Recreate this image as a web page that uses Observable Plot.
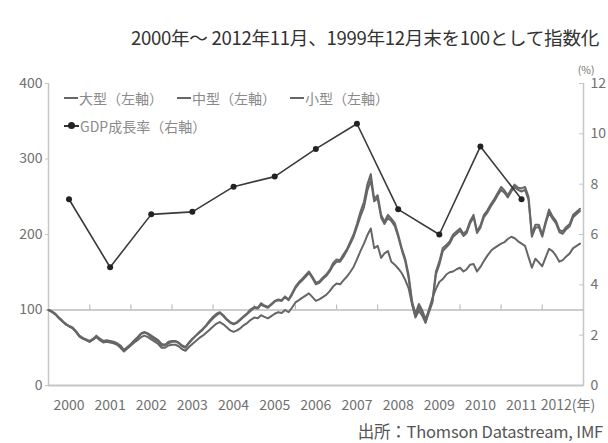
<!DOCTYPE html>
<html><head><meta charset="utf-8">
<script src="https://cdn.jsdelivr.net/npm/d3@7"></script>
<script src="https://cdn.jsdelivr.net/npm/@observablehq/plot@0.6"></script>
<style>
body{margin:0;background:#fff;font-family:"Noto Sans CJK JP","Noto Sans",sans-serif;}
#wrap{position:relative;width:608px;height:443px;overflow:hidden;background:#fff}
#title{height:62px;box-sizing:border-box;padding-top:26px;padding-right:9px;text-align:right;font-size:18.6px;line-height:22px;color:#333;white-space:nowrap;letter-spacing:-0.3px}
#chart{height:360px}
#caption{height:21px;text-align:right;padding-right:5px;font-size:16.5px;line-height:19px;color:#555;white-space:nowrap;letter-spacing:-0.2px}
#legend{position:absolute;left:64px;top:84px;font-size:14px;color:#8a8a8a;line-height:22px}
.row{display:flex;align-items:center;height:28px;white-space:nowrap}
.item{display:flex;align-items:center;margin-right:14px}
.sw{display:inline-block;width:14px;height:2.5px;background:#666;margin-right:1px}
.gsw{position:relative;display:inline-block;width:15px;height:2px;background:#333;margin-right:1px}
.gsw:after{content:"";position:absolute;left:4px;top:-3px;width:7px;height:7px;border-radius:50%;background:#222}
</style></head>
<body><div id="wrap">
<div id="title">2000年～ 2012年11月、1999年12月末を100として指数化</div>
<div id="chart"></div>
<div id="caption">出所：Thomson Datastream, IMF</div>
<div id="legend"></div>
</div>
<script>
// ---- data ----
const seriesNames = ["大型（左軸）", "中型（左軸）", "小型（左軸）"];
const gdpName = "GDP成長率（右軸）";
const leftTicks = [0, 100, 200, 300, 400];
const rightTicks = [0, 2, 4, 6, 8, 10, 12];
const yearLabels = [2000, 2001, 2002, 2003, 2004, 2005, 2006, 2007, 2008, 2009, 2010, 2011];
const lastYearLabel = "2012(年)";
const gdpYears = [2000, 2001, 2002, 2003, 2004, 2005, 2006, 2007, 2008, 2009, 2010, 2011];
const gdpValues = [7.4, 4.7, 6.8, 6.9, 7.9, 8.3, 9.4, 10.4, 7.0, 6.0, 9.5, 7.4];

// monthly, 1999-12 .. 2012-11
const startMonth = "1999-12";
const largeCap = [100,
 98, 95, 90, 86, 81, 79, 76, 71, 65, 62, 60, 58,
 61, 64, 60, 57, 58, 57, 56, 54, 50, 45, 49, 53,
 57, 60, 64, 66, 64, 61, 58, 55, 50, 50, 53, 54,
 54, 52, 48, 46, 51, 55, 59, 63, 66, 70, 74, 78,
 82, 84, 81, 77, 73, 71, 73, 76, 80, 83, 87, 90,
 89, 93, 91, 89, 92, 95, 97, 96, 100, 97, 103, 110,
 113, 116, 119, 122, 117, 112, 114, 117, 120, 125, 131, 135,
 134, 139, 144, 150, 157, 167, 178, 188, 199, 208, 182, 185,
 169, 175, 178, 164, 160, 155, 149, 140, 129, 108, 90, 99,
 92, 83, 101, 116, 128, 137, 141, 147, 150, 151, 154, 156,
 151, 154, 160, 161, 151, 157, 165, 172, 178, 182, 185, 188,
 190, 194, 197, 195, 191, 188, 185, 170, 156, 168, 163, 158,
 170, 181, 178, 172, 164, 166, 171, 175, 182, 185, 188];
const midCap = [100,
 97, 94, 90, 86, 81, 79, 77, 72, 66, 63, 61, 59,
 62, 66, 62, 59, 60, 59, 58, 56, 53, 47, 51, 55,
 60, 64, 69, 71, 69, 66, 63, 60, 55, 54, 58, 59,
 59, 57, 53, 51, 57, 62, 66, 71, 75, 80, 86, 91,
 95, 97, 93, 88, 84, 82, 84, 88, 92, 96, 101, 104,
 103, 109, 106, 104, 108, 112, 114, 113, 118, 114, 122, 131,
 137, 141, 146, 151, 144, 136, 138, 143, 147, 153, 162, 167,
 166, 173, 180, 190, 200, 214, 230, 243, 266, 280, 247, 252,
 226, 217, 226, 221, 215, 200, 182, 168, 147, 112, 95, 108,
 99, 88, 100, 112, 151, 164, 182, 186, 191, 200, 204, 208,
 201, 205, 218, 226, 204, 212, 226, 232, 240, 247, 255, 263,
 258, 252, 260, 266, 262, 261, 263, 250, 200, 213, 213, 200,
 218, 233, 224, 218, 206, 204, 210, 214, 226, 230, 234];
const smallCap = [100,
 98, 95, 89, 85, 82, 78, 76, 71, 65, 62, 60, 58,
 61, 65, 61, 58, 59, 58, 57, 55, 51, 46, 50, 54,
 59, 63, 68, 70, 68, 64, 61, 58, 53, 53, 56, 58,
 58, 56, 52, 50, 56, 61, 66, 70, 74, 79, 84, 89,
 93, 96, 92, 87, 83, 81, 83, 87, 91, 95, 99, 103,
 102, 107, 105, 103, 107, 111, 113, 112, 117, 113, 120, 129,
 135, 139, 144, 149, 142, 134, 136, 141, 145, 151, 159, 164,
 164, 170, 178, 187, 197, 210, 224, 236, 258, 272, 244, 248,
 222, 214, 222, 218, 211, 197, 180, 165, 143, 108, 92, 104,
 96, 84, 97, 110, 147, 160, 178, 183, 188, 197, 201, 205,
 198, 202, 215, 223, 202, 209, 223, 229, 237, 244, 252, 259,
 255, 249, 257, 263, 259, 257, 259, 246, 197, 209, 210, 197,
 215, 229, 221, 215, 203, 201, 207, 211, 223, 227, 231];

// ---- build tables ----
const [sy, sm] = startMonth.split("-").map(Number);
const monthEnd = i => new Date(Date.UTC(sy, sm - 1 + i + 1, 1)); // end of month
const rows = [];
[[seriesNames[0], largeCap], [seriesNames[2], smallCap], [seriesNames[1], midCap]].forEach(([name, vals]) => {
  vals.forEach((v, i) => rows.push({series: name, date: monthEnd(i), value: v}));
});
const gdpRows = gdpYears.map((y, i) => ({date: new Date(Date.UTC(y, 6, 1)), v: gdpValues[i]}));
const leftMax = leftTicks[leftTicks.length - 1];
const rightMax = rightTicks[rightTicks.length - 1];
const toLeft = v => v * leftMax / rightMax;
const xStart = new Date(Date.UTC(2000, 0, 1));
const xEnd = new Date(Date.UTC(2013, 0, 1));
const yearStarts = d3.range(2001, 2013).map(y => new Date(Date.UTC(y, 0, 1)));
const midYears = yearLabels.map(y => new Date(Date.UTC(y, 6, 1)));

const axisColor = "#c6c6c6";
const textColor = "#707070";

const chart = Plot.plot({
  width: 608, height: 360,
  marginTop: 21, marginBottom: 37, marginLeft: 48, marginRight: 25,
  style: {fontFamily: '"Noto Sans CJK JP","Noto Sans",sans-serif', fontSize: "14px", background: "#fff"},
  x: {type: "utc", domain: [xStart, xEnd], axis: null},
  y: {domain: [0, leftMax], axis: null},
  marks: [
    Plot.ruleY([0], {stroke: axisColor, strokeWidth: 2}),
    Plot.ruleY([100], {stroke: "#bdbdbd", strokeWidth: 1.5}),
    Plot.ruleX([xStart], {y1: 0, y2: leftMax, stroke: axisColor, strokeWidth: 1.5}),
    Plot.ruleX([xEnd], {y1: 0, y2: leftMax, stroke: axisColor, strokeWidth: 1.5}),
    Plot.ruleX(yearStarts, {x: d => d, y1: 100, y2: 100, insetTop: -5, stroke: "#bdbdbd", strokeWidth: 1.2}),
    Plot.axisY(leftTicks, {anchor: "left", tickSize: 3, tickPadding: 3, stroke: axisColor, fill: textColor, fontSize: 14, label: null}),
    Plot.axisY(rightTicks.map(toLeft), {anchor: "right", tickSize: -5, tickPadding: 12, tickFormat: d => String(Math.round(d * rightMax / leftMax)), stroke: axisColor, fill: textColor, fontSize: 14, label: null, textAnchor: "start"}),
    Plot.axisX(midYears, {anchor: "bottom", tickSize: 0, tickPadding: 15, tickFormat: d => String(d.getUTCFullYear()), fill: textColor, fontSize: 14, label: null}),
    Plot.text([lastYearLabel], {x: () => new Date(Date.UTC(2012, 6, 1)), frameAnchor: "bottom", dy: 24, dx: -22, textAnchor: "start", text: d => d, fill: textColor, fontSize: 14}),
    Plot.text(["(%)"], {frameAnchor: "top-right", dx: 11, dy: -17, text: d => d, fill: textColor, fontSize: 10.5}),
    Plot.line(rows, {x: "date", y: "value", z: "series", stroke: "#666", strokeWidth: 2, strokeLinejoin: "round"}),
    Plot.line(gdpRows, {x: "date", y: d => toLeft(d.v), stroke: "#3a3a3a", strokeWidth: 1.6}),
    Plot.dot(gdpRows, {x: "date", y: d => toLeft(d.v), r: 3, fill: "#222", stroke: "none"})
  ]
});
document.getElementById("chart").appendChild(chart);

// legend
const lg = document.getElementById("legend");
const r1 = document.createElement("div"); r1.className = "row";
seriesNames.forEach(n => {
  const it = document.createElement("span"); it.className = "item";
  it.innerHTML = '<span class="sw"></span>' + n;
  r1.appendChild(it);
});
const r2 = document.createElement("div"); r2.className = "row";
r2.innerHTML = '<span class="item"><span class="gsw"></span>' + gdpName + '</span>';
lg.appendChild(r1); lg.appendChild(r2);
</script>
</body></html>
